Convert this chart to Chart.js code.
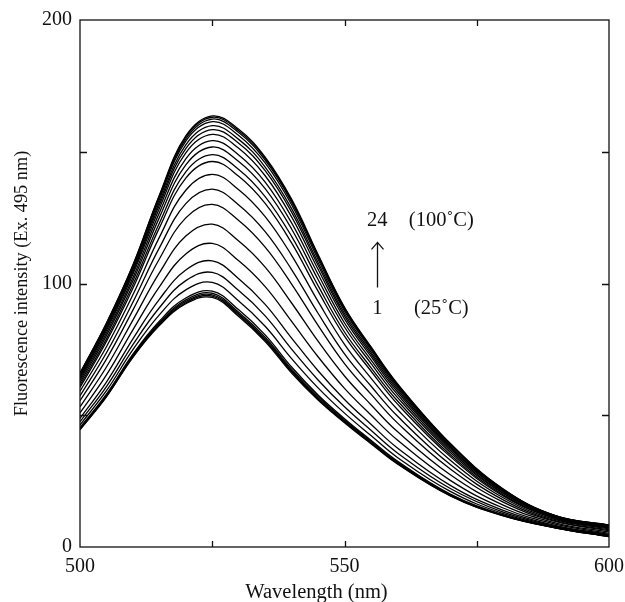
<!DOCTYPE html>
<html>
<head>
<meta charset="utf-8">
<script src="https://cdn.jsdelivr.net/npm/chart.js@4/dist/chart.umd.min.js"></script>
<style>
  html, body { margin: 0; padding: 0; background: #fff; }
  #wrap { width: 625px; height: 602px; }
</style>
</head>
<body>
<div id="wrap"><canvas id="c" width="625" height="602"></canvas></div>
<script>
// ---- data ----
const wavelengths = [500, 505, 510, 515, 520, 525, 530, 535, 540, 545, 550, 555, 560, 570, 580, 590, 600];

const curve01 = [44.5, 57.0, 72.0, 84.0, 92.3, 94.7, 87.5, 78.0, 66.0, 55.8, 47.2, 39.2, 31.5, 19.4, 11.8, 7.2, 3.9];
const curve02 = [44.7, 57.2, 72.2, 84.3, 92.7, 95.2, 88.0, 78.5, 66.5, 56.2, 47.5, 39.5, 31.7, 19.5, 11.9, 7.2, 3.9];
const curve03 = [44.8, 57.4, 72.5, 84.7, 93.2, 95.7, 88.5, 79.0, 67.0, 56.6, 47.8, 39.7, 31.9, 19.7, 12.0, 7.3, 4.0];
const curve04 = [45.0, 57.6, 72.8, 85.1, 93.8, 96.3, 89.1, 79.6, 67.5, 57.1, 48.2, 40.1, 32.2, 19.9, 12.0, 7.3, 4.0];
const curve05 = [45.3, 58.0, 73.2, 85.7, 94.5, 97.1, 90.0, 80.5, 68.3, 57.7, 48.7, 40.5, 32.6, 20.1, 12.2, 7.4, 4.1];
const curve06 = [46.3, 59.3, 74.9, 88.1, 97.6, 100.4, 93.4, 83.8, 71.5, 60.4, 50.8, 42.3, 34.0, 21.1, 12.7, 7.6, 4.3];
const curve07 = [47.5, 60.9, 76.8, 90.8, 101.1, 104.2, 97.3, 87.7, 75.1, 63.4, 53.2, 44.3, 35.7, 22.2, 13.2, 7.8, 4.5];
const curve08 = [48.8, 62.6, 79.0, 94.0, 105.1, 108.6, 101.8, 92.1, 79.3, 66.9, 56.0, 46.6, 37.6, 23.4, 13.9, 8.1, 4.8];
const curve09 = [50.9, 65.3, 82.4, 98.7, 111.2, 115.2, 108.6, 98.8, 85.6, 72.2, 60.2, 50.1, 40.6, 25.3, 14.8, 8.6, 5.2];
const curve10 = [53.2, 68.3, 86.1, 104.0, 118.0, 122.5, 116.1, 106.2, 92.6, 78.1, 64.9, 54.0, 43.8, 27.4, 15.9, 9.1, 5.7];
const curve11 = [55.5, 71.3, 89.9, 109.3, 124.9, 130.0, 123.9, 113.8, 99.8, 84.1, 69.6, 58.0, 47.1, 29.6, 17.0, 9.6, 6.2];
const curve12 = [57.3, 73.7, 92.9, 113.5, 130.3, 135.8, 129.8, 119.7, 105.3, 88.7, 73.3, 61.1, 49.7, 31.3, 17.9, 9.9, 6.5];
const curve13 = [59.1, 76.0, 95.7, 117.5, 135.4, 141.4, 135.6, 125.4, 110.7, 93.2, 76.9, 64.1, 52.2, 32.9, 18.7, 10.3, 6.9];
const curve14 = [60.6, 78.0, 98.2, 121.1, 140.0, 146.3, 140.7, 130.4, 115.4, 97.1, 80.0, 66.8, 54.3, 34.3, 19.4, 10.7, 7.2];
const curve15 = [61.4, 79.0, 99.5, 122.9, 142.4, 148.9, 143.3, 133.0, 117.9, 99.2, 81.6, 68.1, 55.5, 35.0, 19.8, 10.8, 7.4];
const curve16 = [62.3, 80.2, 101.0, 125.0, 145.0, 151.8, 146.3, 136.0, 120.7, 101.5, 83.5, 69.7, 56.8, 35.9, 20.3, 11.0, 7.5];
const curve17 = [63.1, 81.2, 102.2, 126.8, 147.3, 154.2, 148.8, 138.5, 123.0, 103.5, 85.0, 71.0, 57.9, 36.6, 20.6, 11.2, 7.7];
const curve18 = [63.8, 82.2, 103.5, 128.5, 149.6, 156.6, 151.3, 140.9, 125.3, 105.4, 86.6, 72.3, 58.9, 37.3, 21.0, 11.3, 7.9];
const curve19 = [64.4, 82.9, 104.4, 129.8, 151.2, 158.4, 153.2, 142.8, 127.1, 106.9, 87.7, 73.2, 59.7, 37.8, 21.2, 11.5, 8.0];
const curve20 = [64.8, 83.5, 105.1, 130.8, 152.6, 159.9, 154.7, 144.2, 128.4, 108.0, 88.6, 74.0, 60.4, 38.2, 21.5, 11.6, 8.1];
const curve21 = [65.3, 84.1, 105.9, 131.9, 154.0, 161.4, 156.2, 145.8, 129.9, 109.2, 89.6, 74.8, 61.0, 38.7, 21.7, 11.7, 8.2];
const curve22 = [65.6, 84.5, 106.4, 132.7, 154.9, 162.4, 157.3, 146.8, 130.9, 110.1, 90.3, 75.4, 61.5, 39.0, 21.8, 11.7, 8.2];
const curve23 = [65.9, 84.8, 106.8, 133.2, 155.6, 163.1, 158.0, 147.5, 131.5, 110.6, 90.7, 75.7, 61.8, 39.2, 21.9, 11.8, 8.3];
const curve24 = [66.0, 85.0, 107.0, 133.5, 156.0, 163.6, 158.5, 148.0, 132.0, 111.0, 91.0, 76.0, 62.0, 39.3, 22.0, 11.8, 8.3];

const curves = [curve01, curve02, curve03, curve04, curve05, curve06, curve07, curve08,
                curve09, curve10, curve11, curve12, curve13, curve14, curve15, curve16,
                curve17, curve18, curve19, curve20, curve21, curve22, curve23, curve24];

const xTickLabels = [500, 550, 600];
const yTickLabels = [0, 100, 200];
const xMinorTicks = [525, 550, 575];
const yMinorTicks = [50, 100, 150];

const xTitle = 'Wavelength (nm)';
const yTitle = 'Fluorescence intensity (Ex. 495 nm)';
const highLabel = ['24', '(100\u02DAC)'];
const lowLabel = ['1', '(25\u02DAC)'];

// ---- chart ----
const FONT = "'Liberation Serif', 'Times New Roman', serif";

const annotations = {
  numX: 556.2, tempX: 568.3,
  highY: 124.0, lowY: 90.6,
  arrowFrom: 98.5, arrowTo: 115.6
};

const decor = {
  id: 'decor',
  afterDatasetsDraw(chart) {
    const { ctx, chartArea: a, scales: { x, y } } = chart;
    ctx.save();
    ctx.strokeStyle = '#111';
    ctx.lineWidth = 1.3;
    ctx.strokeRect(a.left, a.top, a.right - a.left, a.bottom - a.top);
    ctx.beginPath();
    xMinorTicks.forEach(v => {
      const px = Math.round(x.getPixelForValue(v)) + 0.5;
      ctx.moveTo(px, a.bottom); ctx.lineTo(px, a.bottom - 6);
      ctx.moveTo(px, a.top); ctx.lineTo(px, a.top + 6);
    });
    yMinorTicks.forEach(v => {
      const py = Math.round(y.getPixelForValue(v)) + 0.5;
      ctx.moveTo(a.left, py); ctx.lineTo(a.left + 7, py);
      ctx.moveTo(a.right, py); ctx.lineTo(a.right - 7, py);
    });
    ctx.stroke();

    // annotation texts
    ctx.fillStyle = '#111';
    ctx.font = '20.5px ' + FONT;
    ctx.textAlign = 'center';
    ctx.textBaseline = 'middle';
    ctx.fillText(highLabel[0], x.getPixelForValue(annotations.numX), y.getPixelForValue(annotations.highY));
    ctx.fillText(highLabel[1], x.getPixelForValue(annotations.tempX), y.getPixelForValue(annotations.highY));
    ctx.fillText(lowLabel[0], x.getPixelForValue(annotations.numX), y.getPixelForValue(annotations.lowY));
    ctx.fillText(lowLabel[1], x.getPixelForValue(annotations.tempX), y.getPixelForValue(annotations.lowY));

    // arrow
    const ax = Math.round(x.getPixelForValue(annotations.numX)) + 0.5;
    const y0 = y.getPixelForValue(annotations.arrowFrom);
    const y1 = y.getPixelForValue(annotations.arrowTo);
    ctx.lineWidth = 1.3;
    ctx.beginPath();
    ctx.moveTo(ax, y0); ctx.lineTo(ax, y1);
    ctx.moveTo(ax - 6, y1 + 7); ctx.lineTo(ax, y1); ctx.lineTo(ax + 6, y1 + 7);
    ctx.stroke();
    ctx.restore();
  }
};

const datasets = curves.map((c, i) => ({
  label: String(i + 1),
  data: wavelengths.map((w, j) => ({ x: w, y: c[j] })),
  borderColor: '#000',
  borderWidth: 1.3,
  pointRadius: 0,
  fill: false,
  tension: 0.4
}));

new Chart(document.getElementById('c'), {
  type: 'line',
  data: { datasets },
  plugins: [decor],
  options: {
    responsive: false,
    animation: false,
    devicePixelRatio: 1,
    layout: { padding: { left: 8, top: 19, right: 0, bottom: 0 } },
    plugins: {
      legend: { display: false },
      tooltip: { enabled: false },
      title: {
        display: true,
        position: 'bottom',
        text: xTitle,
        color: '#111',
        font: { family: FONT, size: 20.5, weight: 'normal' },
        padding: { top: 0, bottom: -3 }
      }
    },
    scales: {
      x: {
        type: 'linear',
        min: 500, max: 600,
        afterFit: s => { s.height = 33.4; s.paddingLeft = 0; s.paddingRight = 16; },
        grid: { display: false, drawTicks: false },
        border: { display: false },
        ticks: {
          stepSize: 50,
          autoSkip: false,
          maxRotation: 0,
          padding: 8,
          color: '#111',
          font: { family: FONT, size: 20 },
          callback: v => xTickLabels.includes(v) ? String(v) : ''
        }
      },
      y: {
        type: 'linear',
        min: 0, max: 200,
        afterFit: s => { s.width = 72; },
        grid: { display: false, drawTicks: false },
        border: { display: false },
        title: {
          display: true,
          text: yTitle,
          color: '#111',
          font: { family: FONT, size: 18.3, weight: 'normal' },
          padding: { top: 3.5, bottom: 0 }
        },
        ticks: {
          stepSize: 100,
          autoSkip: false,
          padding: 8,
          color: '#111',
          font: { family: FONT, size: 20 },
          callback: v => yTickLabels.includes(v) ? String(v) : ''
        }
      }
    }
  }
});
</script>
</body>
</html>
